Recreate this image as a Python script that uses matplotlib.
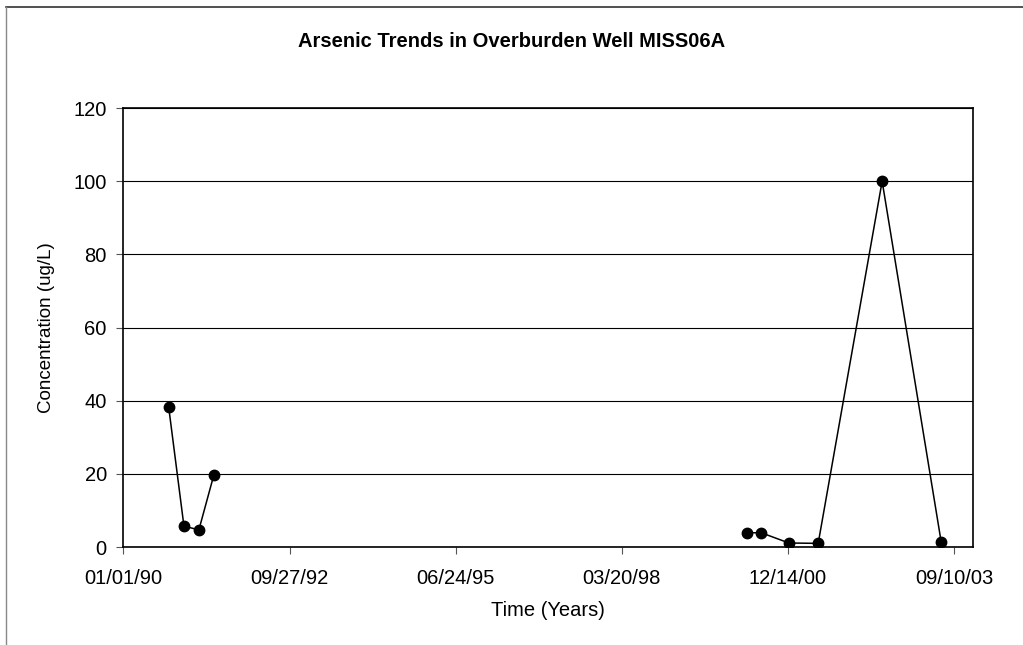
import matplotlib.pyplot as plt
import matplotlib.dates as mdates
from matplotlib.lines import Line2D
import numpy as np
import pandas as pd

plt.rcParams['font.family'] = ['Liberation Sans', 'DejaVu Sans']

# sampling dates and arsenic results (ug/L)
dates_early = ['1990-09-30', '1990-12-31', '1991-03-31', '1991-06-29']
arsenic_early = [38.3, 5.7, 4.7, 19.7]
dates_late = ['2000-04-09', '2000-07-06', '2000-12-20', '2001-06-14',
              '2002-07-04', '2003-06-24']
arsenic_late = [3.9, 3.9, 1.1, 1.0, 100.0, 1.5]

start = pd.Timestamp('1990-01-01')
tick_dates = [start + pd.Timedelta(days=1000 * i) for i in range(6)]
x_max = start + pd.Timedelta(days=5115)

fig = plt.figure(figsize=(10.23, 6.45), dpi=100)
ax = fig.add_axes([0.1207, 0.1519, 0.8306, 0.6806])

for d, v in [(dates_early, arsenic_early), (dates_late, arsenic_late)]:
    ax.plot(pd.to_datetime(d), v, color='black', linewidth=1.1,
            marker='o', markersize=7.5, zorder=3)

ax.set_xlim(start, x_max)
ax.set_ylim(0, 120)
ax.set_yticks(np.arange(0, 121, 20))
ax.set_xticks(tick_dates)
ax.xaxis.set_major_formatter(mdates.DateFormatter('%m/%d/%y'))
ax.yaxis.grid(True, color='black', linewidth=0.8)
ax.set_axisbelow(True)
ax.tick_params(axis='both', direction='out', length=5, width=0.8,
               color='#555555', labelsize=14.5)
ax.tick_params(axis='x', pad=11)
ax.tick_params(axis='y', pad=7)
for s in ax.spines.values():
    s.set_linewidth(1.2)

ax.set_xlabel('Time (Years)', fontsize=14.5, labelpad=9)
ax.set_ylabel('Concentration (ug/L)', fontsize=13.5, labelpad=13)
fig.text(0.5, 0.935, 'Arsenic Trends in Overburden Well MISS06A',
         ha='center', va='center', fontsize=14.5, fontweight='bold')

# outer chart frame
fig.add_artist(Line2D([0.0059, 1.0], [0.9891, 0.9891], color='#333333',
                      linewidth=1.2, transform=fig.transFigure))
fig.add_artist(Line2D([0.0059, 0.0059], [0.0, 0.9891], color='#888888',
                      linewidth=1.0, transform=fig.transFigure))

fig.savefig('out.png', dpi=100)
